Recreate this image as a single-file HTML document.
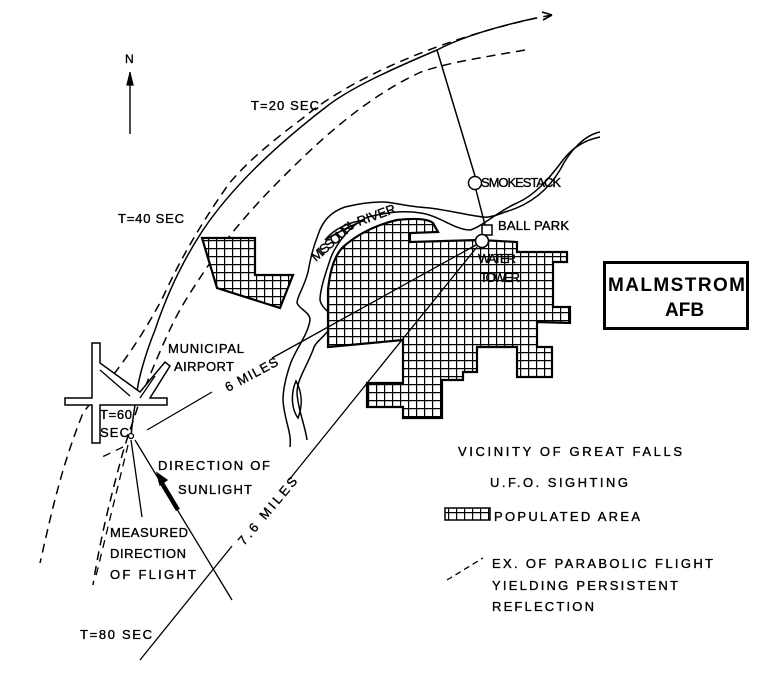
<!DOCTYPE html>
<html><head><meta charset="utf-8"><style>
html,body{margin:0;padding:0;background:#fff;}
svg{display:block;}
text{font-family:"Liberation Sans",sans-serif;font-size:13px;fill:#000;stroke:#000;stroke-width:0.35px;}
</style></head><body>
<svg width="775" height="676" viewBox="0 0 775 676" xmlns="http://www.w3.org/2000/svg">
<defs>
<pattern id="grid" width="8" height="8" patternUnits="userSpaceOnUse">
<rect width="8" height="8" fill="#fff"/>
<path d="M0 0.6H8M0.6 0V8" stroke="#000" stroke-width="1.2"/>
</pattern>
</defs>
<g fill="none" stroke="#000" stroke-width="1.5">
<path d="M552,15 C470,30 360,70 303,118 C260,150 240,170 228,185 C200,225 180,260 163,297 C130,360 100,390 83,413 C60,470 50,520 40,563" stroke-dasharray="9,6"/>
<path d="M552,15 l-10,-3 M552,15 l-9,5" stroke-width="1.6"/>
<path d="M536,18 C490,28 460,38 437,50 C390,70 350,88 326,107 C270,150 230,190 203,230 C180,265 165,300 155,330 C145,355 138,380 137,393 C134,410 132,425 131,436"/>
<path d="M525,50 C480,58 450,62 421,72 C360,100 310,150 280,180 C250,210 225,240 210,263 C195,285 183,303 173,323 C160,350 148,380 140,400 C132,425 126,440 120,463 C110,500 100,540 93,585" stroke-dasharray="9,6"/>
<path d="M437,50 L475,176 M476,190 L485,225"/>
<circle cx="475" cy="183" r="6.5" fill="#fff"/>
<rect x="482" y="225" width="10" height="10" fill="#fff"/>
<path d="M600,132 C585,135 570,150 560,170 C548,190 530,205 505,212 C495,216 488,218 483,217 C460,214 440,208 418,207 C400,205 392,202 383,202 C365,202 355,205 345,207 C330,212 322,222 318,235 C312,250 310,262 308,272 C304,288 297,296 297,303 C300,310 310,312 310,320 C308,335 295,350 290,365 C285,380 283,390 283,400 C284,420 292,432 290,447"/>
<path d="M600,137 C585,140 572,148 563,160 C548,180 535,195 517,203 C500,210 480,228 470,230 C455,230 440,216 421,213 C400,210 385,213 368,217 C350,225 335,245 330,260 C325,275 320,290 320,300 C322,310 333,313 333,320 C330,335 315,340 313,350 C305,370 297,380 297,393 C298,410 305,425 307,440"/>
<path d="M296,381 C290,395 292,410 298,418 C303,405 302,392 296,381Z"/>
<path d="M325,240 C335,228 350,222 365,220 C350,226 338,232 325,240Z"/>
</g>
<g stroke="#000" stroke-width="2.2" fill="url(#grid)">
<path d="M202,238 L255,238 L255,275 L293,275 L280,308 L217,288 Z"/>
<path d="M328,290 C330,270 335,255 343,247 C360,232 380,224 397,220 C415,218 428,219 433,223 L438,232 L410,233 L410,242 L480,240 L517,242 L517,252 L567,252 L567,262 L553,262 L553,307 L570,307 L570,323 L537,322 L537,347 L552,347 L552,377 L517,377 L517,347 L477,347 L477,372 L463,372 L463,380 L442,380 L442,418 L403,418 L403,407 L367,407 L367,383 L403,383 L403,340 L328,347 Z"/>
</g>
<g fill="none" stroke="#000" stroke-width="1.3">
<circle cx="482" cy="241" r="6.5" fill="#fff" stroke-width="1.6"/>
<path d="M476,245 L292,347 L272,358 M212,392 L147,430"/>
<path d="M477,247 L297,470 L289,480 M232,546 L140,660"/>
<path d="M135,440 L232,600"/>
<path d="M160,480 L178,510" stroke-width="4.5"/>
<path d="M157,473 L167,480 L160,485Z" fill="#000"/>
<path d="M131,440 L142,517"/>
<path d="M123,447 L100,458 M128,445 L95,580" stroke-dasharray="8,6"/>
<path d="M92,343 L100,343 L100,363 L140,392 L165,362 L170,366 L150,398 L167,398 L167,405 L100,405 L100,443 L92,443 L92,405 L65,405 L65,398 L92,398 Z" fill="#fff" stroke-width="1.5"/>
<path d="M100,370 L130,396 M155,376 L140,398"/>
<circle cx="131" cy="436" r="2.5" fill="#fff"/>
<path d="M130,72 L130,134" stroke-width="1.4"/>
<path d="M127,85 L130,73 L133,85 Z" fill="#000"/>
<path d="M447,580 L483,558" stroke-dasharray="6,4"/>
</g>
<rect x="445" y="508" width="45" height="12" fill="url(#grid)" stroke="#000" stroke-width="1.5"/>
<rect x="604.5" y="262.5" width="143" height="66" fill="none" stroke="#000" stroke-width="3"/>
<text x="608" y="291" textLength="137" style="font-size:19px;font-weight:bold;stroke-width:0">MALMSTROM</text>
<text x="665" y="316" style="font-size:19px;font-weight:bold;stroke-width:0">AFB</text>
<text x="125" y="63" style="font-size:12px">N</text>
<text x="251" y="110" textLength="68">T=20 SEC</text>
<text x="118" y="223" textLength="66">T=40 SEC</text>
<text x="481" y="187" textLength="80">SMOKESTACK</text>
<text x="498" y="230" textLength="71">BALL PARK</text>
<text x="478" y="263" textLength="38">WATER</text>
<text x="480" y="282" textLength="40">TOWER</text>
<text transform="translate(316,262) rotate(-42)" textLength="52">MISSOURI</text>
<text transform="translate(359,226) rotate(-20)" textLength="40">RIVER</text>
<text x="168" y="353" textLength="76">MUNICIPAL</text>
<text x="174" y="371" textLength="60">AIRPORT</text>
<text transform="translate(228,392) rotate(-28)" textLength="58">6 MILES</text>
<text x="100" y="419" textLength="32">T=60</text>
<text x="100" y="437" textLength="29">SEC</text>
<text x="158" y="470" textLength="112">DIRECTION OF</text>
<text x="178" y="494" textLength="74">SUNLIGHT</text>
<text transform="translate(244,546) rotate(-50)" textLength="84">7.6 MILES</text>
<text x="110" y="537" textLength="78">MEASURED</text>
<text x="110" y="558" textLength="76">DIRECTION</text>
<text x="110" y="579" textLength="86">OF FLIGHT</text>
<text x="80" y="639" textLength="72">T=80 SEC</text>
<text x="458" y="456" textLength="224">VICINITY OF GREAT FALLS</text>
<text x="490" y="487" textLength="138">U.F.O. SIGHTING</text>
<text x="494" y="521" textLength="146">POPULATED AREA</text>
<text x="492" y="568" textLength="221">EX. OF PARABOLIC FLIGHT</text>
<text x="492" y="590" textLength="186">YIELDING PERSISTENT</text>
<text x="492" y="611" textLength="102">REFLECTION</text>
</svg>
</body></html>
